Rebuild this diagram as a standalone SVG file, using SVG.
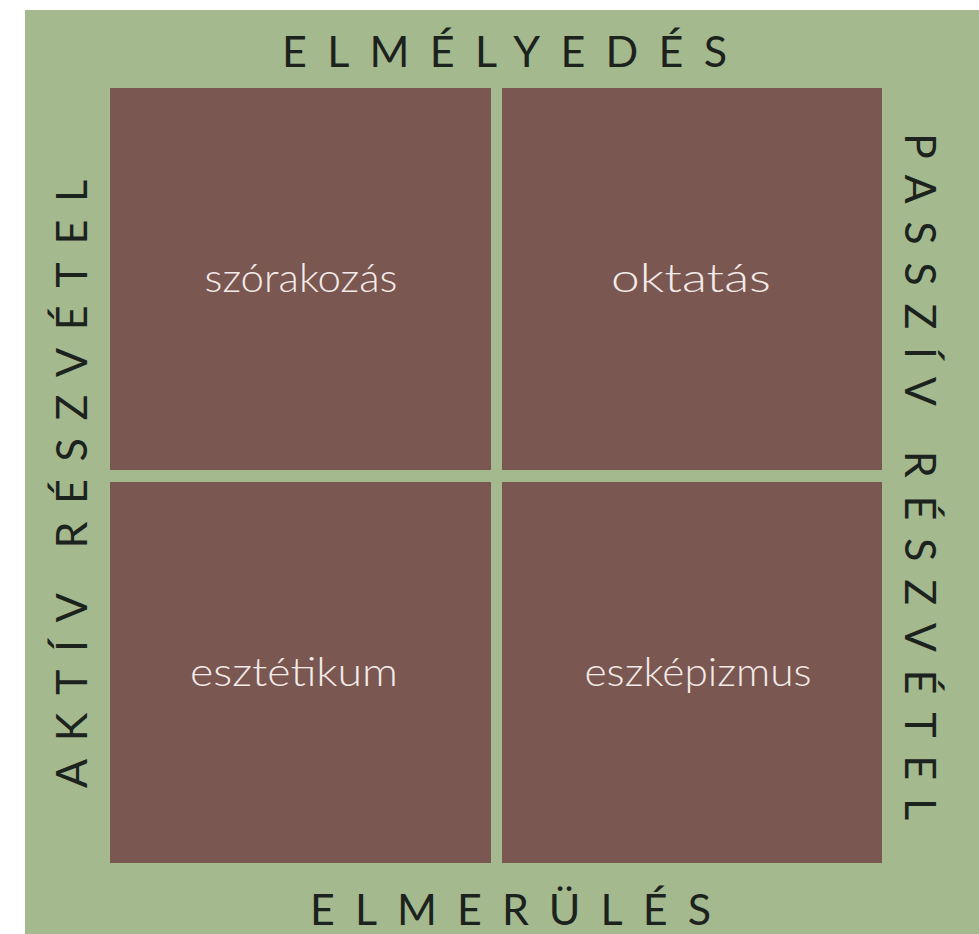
<svg xmlns="http://www.w3.org/2000/svg" width="979" height="934" viewBox="0 0 979 934">
<style>
.bg{fill:#a4b98e}
.sq{fill:#7b5751}
.axis{font-family:Lato,"Liberation Sans",sans-serif;font-size:43px;fill:#1c221d}
.lbl{font-family:Lato,"Liberation Sans",sans-serif;font-size:40px;font-weight:300;fill:#f3ebe9;text-anchor:middle}
</style>
<rect x="0" y="0" width="979" height="934" fill="#ffffff"/>
<rect class="bg" x="25" y="10" width="954" height="924"/>
<g id="node-szorakozas">
<rect class="sq" x="110" y="88" width="381" height="382"/>
<text class="lbl" x="301" y="292" textLength="193" lengthAdjust="spacingAndGlyphs">szórakozás</text>
</g>
<g id="node-oktatas">
<rect class="sq" x="502" y="88" width="380" height="382"/>
<text class="lbl" x="691" y="292" textLength="160" lengthAdjust="spacingAndGlyphs">oktatás</text>
</g>
<g id="node-esztetikum">
<rect class="sq" x="110" y="482" width="381" height="381"/>
<text class="lbl" x="294" y="686" textLength="208" lengthAdjust="spacingAndGlyphs">esztétikum</text>
</g>
<g id="node-eszkepizmus">
<rect class="sq" x="502" y="482" width="380" height="381"/>
<text class="lbl" x="698" y="686" textLength="227" lengthAdjust="spacingAndGlyphs">eszképizmus</text>
</g>
<g id="axes">
<text class="axis" x="282" y="67" textLength="445" lengthAdjust="spacing">ELMÉLYEDÉS</text>
<text class="axis" x="310" y="925" textLength="401" lengthAdjust="spacing">ELMERÜLÉS</text>
<text class="axis" transform="translate(87,788) rotate(-90)" x="0" y="0" textLength="608" lengthAdjust="spacing">AKTÍV RÉSZVÉTEL</text>
<text class="axis" transform="translate(905,133) rotate(90)" x="0" y="0" textLength="687" lengthAdjust="spacing">PASSZÍV RÉSZVÉTEL</text>
</g>
<g id="connectors"></g>
</svg>
